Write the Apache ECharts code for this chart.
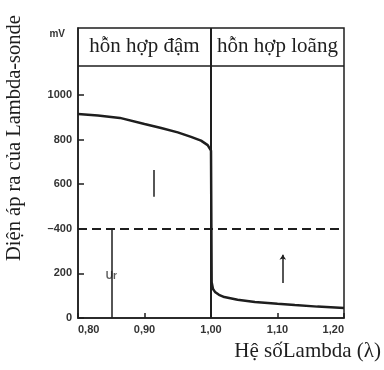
<!DOCTYPE html>
<html>
<head>
<meta charset="utf-8">
<script src="https://cdn.jsdelivr.net/npm/echarts@6/dist/echarts.min.js"></script>
<style>
  html, body { margin: 0; padding: 0; background: #fff; }
  #main { width: 384px; height: 370px; }
</style>
</head>
<body>
<div id="main"></div>
<script>
// lambda sensor curve
var lambda = [0.80, 0.83, 0.863, 0.90, 0.925, 0.95, 0.97, 0.985, 0.995, 1.000,
              1.001, 1.003, 1.006, 1.012, 1.02, 1.04, 1.066, 1.10, 1.126, 1.16, 1.20];
var voltage = [915, 908, 897, 870, 852, 832, 812, 795, 775, 750,
               160, 130, 117, 104, 94, 82, 72, 64, 58, 51, 45];

var xTicks = [0.8, 0.9, 1.0, 1.1, 1.2];
var yTicks = [0, 200, 400, 600, 800, 1000];
var threshold = 400;       // dashed reference voltage
var urLambda = 0.85;       // Ur marker
var headerFrom = 1130;     // bottom of header band
var regions = ['hỗn hợp đậm', 'hỗn hợp loãng'];

var ink = '#1e1e1e';
var serif = '"Liberation Serif", "DejaVu Serif", serif';
var sans = '"Liberation Sans", "DejaVu Sans", sans-serif';

var chartDom = document.getElementById('main');
var myChart = echarts.init(chartDom);
var option = {
  animation: false,
  backgroundColor: '#fff',
  grid: {
    left: 78, right: 39, top: 28, bottom: 52,
    show: true, borderColor: ink, borderWidth: 1.5
  },
  xAxis: {
    type: 'value',
    min: 0.8, max: 1.2, interval: 0.1,
    name: 'Hệ sốLambda (λ)',
    nameLocation: 'end',
    nameGap: 37,
    nameTextStyle: {
      fontFamily: serif, fontSize: 21, color: ink,
      align: 'right', verticalAlign: 'top', padding: [23, 0, 0, 0]
    },
    axisLine: { lineStyle: { color: ink, width: 1.5 } },
    axisTick: { inside: true, length: 5, lineStyle: { color: ink, width: 1.5 }, customValues: xTicks },
    axisLabel: {
      customValues: xTicks,
      color: '#333', fontFamily: sans, fontWeight: 'bold', fontSize: 11, margin: 6,
      alignMinLabel: 'left', alignMaxLabel: 'right',
      formatter: function (v) { return v.toFixed(2).replace('.', ','); }
    },
    splitLine: { show: false }
  },
  yAxis: {
    type: 'value',
    min: 0, max: 1300, interval: 100,
    name: 'mV',
    nameLocation: 'end',
    nameGap: -6,
    nameTextStyle: {
      fontFamily: sans, fontWeight: 'bold', fontSize: 10, color: '#333',
      align: 'right', verticalAlign: 'middle', padding: [0, 13, 0, 0]
    },
    axisLine: { lineStyle: { color: ink, width: 1.5 } },
    axisTick: { inside: true, length: 6, lineStyle: { color: ink, width: 1.5 }, customValues: yTicks },
    axisLabel: {
      customValues: yTicks,
      color: '#333', fontFamily: sans, fontWeight: 'bold', fontSize: 11, margin: 6,
      formatter: function (v) { return v === threshold ? '–' + v : String(v); }
    },
    splitLine: { show: false }
  },
  graphic: [{
    type: 'text',
    x: 15, y: 138,
    rotation: Math.PI / 2,
    style: {
      text: 'Diện áp ra của Lambda-sonde',
      fill: ink, font: '20.5px ' + serif,
      textAlign: 'center', textVerticalAlign: 'middle'
    }
  }],
  series: [
    {
      type: 'line',
      data: lambda.map(function (l, i) { return [l, voltage[i]]; }),
      symbol: 'none',
      lineStyle: { color: ink, width: 2.5 },
      markArea: {
        silent: true,
        itemStyle: { color: 'rgba(0,0,0,0)' },
        label: { position: 'inside', fontFamily: serif, fontSize: 21, color: ink },
        data: [
          [{ name: regions[0], coord: [0.8, headerFrom] }, { coord: [1.0, 1300] }],
          [{ name: regions[1], coord: [1.0, headerFrom] }, { coord: [1.2, 1300] }]
        ]
      },
      markLine: {
        silent: true,
        symbol: 'none',
        label: { show: false },
        lineStyle: { color: ink, width: 1.5, type: 'solid' },
        data: [
          { yAxis: headerFrom },
          { xAxis: 1.0, lineStyle: { width: 2 } },
          { yAxis: threshold, lineStyle: { type: [9, 5], width: 2 } },
          [{ coord: [urLambda, 0] }, { coord: [urLambda, threshold] }],
          [{ coord: [0.914, 664] }, { coord: [0.914, 543] }],
          [{ coord: [1.108, 157] }, { coord: [1.108, 283], symbol: 'arrow', symbolSize: 5 }]
        ]
      }
    },
    {
      type: 'scatter',
      data: [[urLambda, 185]],
      symbolSize: 0,
      silent: true,
      label: {
        show: true, formatter: 'Ur', position: 'inside',
        fontFamily: sans, fontWeight: 'bold', fontSize: 10, color: '#333'
      }
    }
  ]
};
option && myChart.setOption(option);
</script>
</body>
</html>
